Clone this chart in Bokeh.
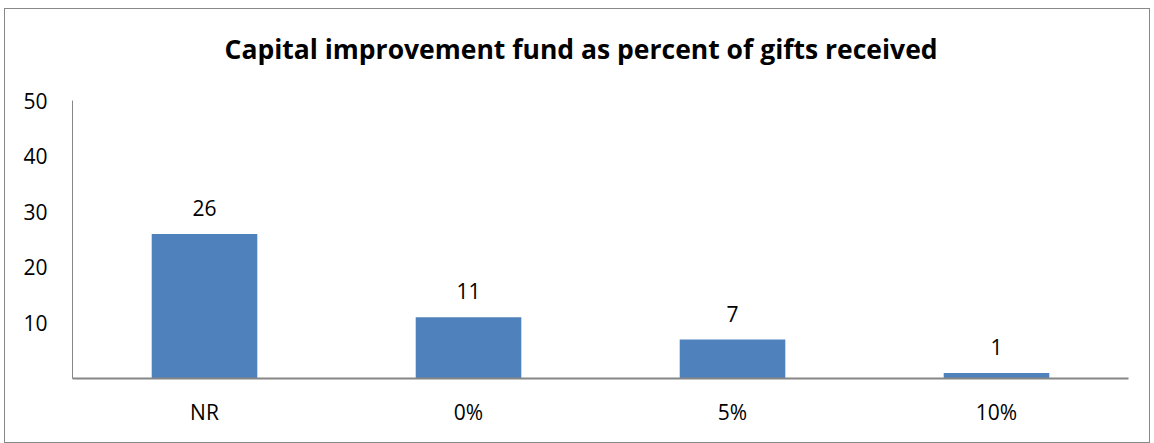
from bokeh.plotting import figure
from bokeh.models import ColumnDataSource, FixedTicker, LabelSet, Range1d, Title
from bokeh.core.properties import value
from bokeh.embed import file_html
from bokeh.resources import INLINE

categories = ["NR", "0%", "5%", "10%"]
values = [26, 11, 7, 1]
y_ticks = [10, 20, 30, 40, 50]
title_text = "Capital improvement fund as percent of gifts received"

W, H = 1146, 435
FL, FR, FT, FB = 67, 1123, 91, 369
FONT = "Open Sans"

src = ColumnDataSource(dict(cat=categories, val=values, lab=[str(v) for v in values]))

p = figure(x_range=categories, y_range=Range1d(0, 50), width=W, height=H,
           output_backend="svg", toolbar_location=None, title=None,
           min_border_left=FL, min_border_right=W - FR,
           min_border_top=FT, min_border_bottom=H - FB)
p.vbar(x="cat", top="val", width=0.4, source=src, fill_color="#4F81BD", line_color=None)

labels = LabelSet(x="cat", y="val", text="lab", source=src, text_align="center",
                  text_baseline="bottom", y_offset=18, text_font=value(FONT),
                  text_font_size="21px", text_color="#000000")
p.add_layout(labels)

spacer = Title(text=" ", text_font=FONT, text_font_size="9px", standoff=0)
p.add_layout(spacer, "above")

main_title = Title(text=title_text, align="left", offset=152, text_font=FONT,
                   text_font_size="26.5px", text_font_style="bold",
                   text_color="#000000", standoff=38)
p.add_layout(main_title, "above")

p.xgrid.visible = False
p.ygrid.visible = False
p.outline_line_color = None

p.yaxis.ticker = FixedTicker(ticks=y_ticks)
p.yaxis.major_tick_line_color = None
p.yaxis.minor_tick_line_color = None
p.yaxis.axis_line_color = "#868686"
p.yaxis.major_label_standoff = 19
p.yaxis.major_label_text_font = FONT
p.yaxis.major_label_text_font_size = "21px"
p.yaxis.major_label_text_color = "#000000"

p.xaxis.major_tick_line_color = None
p.xaxis.minor_tick_line_color = None
p.xaxis.axis_line_color = "#868686"
p.xaxis.axis_line_width = 2
p.xaxis.major_label_standoff = 13
p.xaxis.major_label_text_font = FONT
p.xaxis.major_label_text_font_size = "21px"
p.xaxis.major_label_text_color = "#000000"

p.styles = {"border": "1px solid #888888", "box-sizing": "border-box",
            "margin-left": "4px", "margin-top": "8px"}

open("out.html", "w").write(file_html(p, INLINE))
